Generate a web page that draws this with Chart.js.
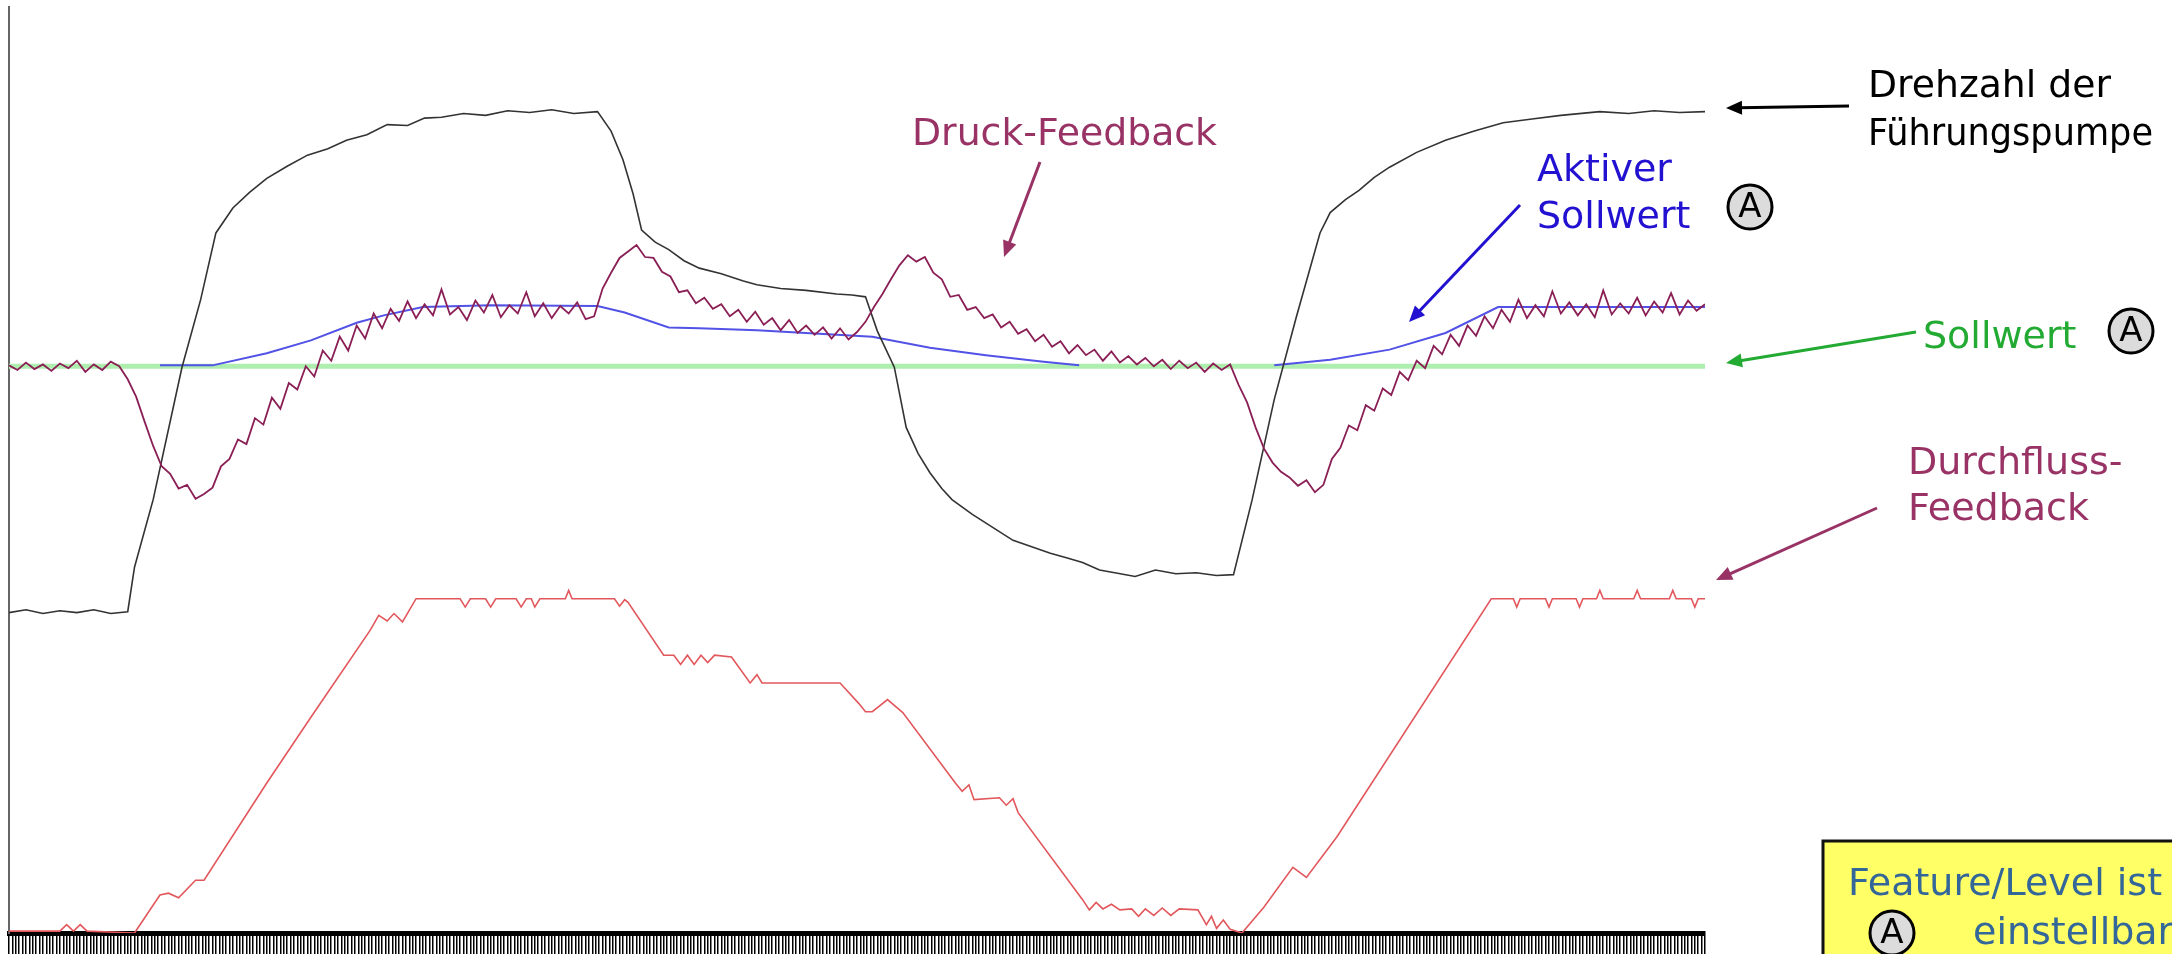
<!DOCTYPE html>
<html lang="de">
<head>
<meta charset="utf-8">
<title>Druckregelung</title>
<script src="https://cdn.jsdelivr.net/npm/chart.js@4.4.1/dist/chart.umd.min.js"></script>
<style>
    html, body { margin: 0; padding: 0; background: #fff; }
    canvas { display: block; }
</style>
</head>
<body>
<canvas id="trend" width="2172" height="954"></canvas>
<script>
// time axis runs 0..1000 (arbitrary units), values in % of full scale

// Druck-Feedback, one sample every 5 time units
const pressureStep = 5;
const pressureValues = [
    61.3, 60.8, 61.6, 60.9, 61.4, 60.7, 61.5, 61.0, 61.8, 60.6, 61.4, 60.8, 61.7, 61.2, 59.8, 57.9, 55.2, 52.6, 50.4, 49.6,
    48.0, 48.4, 46.9, 47.4, 48.1, 50.4, 51.2, 53.3, 52.8, 55.6, 54.9, 57.8, 56.6, 59.4, 58.7, 61.2, 60.1, 62.9, 61.8, 64.4,
    62.9, 65.6, 64.2, 66.9, 65.3, 67.4, 66.1, 68.2, 66.4, 67.9, 66.7, 69.5, 66.8, 67.6, 66.2, 68.3, 67.0, 68.9, 66.5, 67.8,
    66.9, 69.2, 66.6, 68.0, 66.4, 67.7, 66.9, 68.1, 66.3, 66.6, 69.6, 71.3, 72.9, 73.6, 74.3, 73.0, 72.9, 71.4, 70.9, 69.2,
    69.4, 68.0, 68.6, 67.4, 67.9, 66.6, 67.3, 66.0, 67.1, 65.7, 66.4, 65.1, 66.2, 64.8, 65.6, 64.6, 65.4, 64.2, 65.3, 64.1,
    64.9, 66.0, 67.6, 69.0, 70.6, 72.1, 73.2, 72.5, 73.0, 71.3, 70.6, 68.7, 68.9, 67.3, 67.6, 66.4, 66.8, 65.4, 66.0, 64.7,
    65.2, 63.9, 64.6, 63.3, 63.9, 62.6, 63.5, 62.4, 63.0, 61.8, 62.8, 61.6, 62.3, 61.4, 62.1, 61.2, 61.9, 60.9, 61.8, 61.0,
    61.6, 60.6, 61.5, 60.8, 61.4, 59.2, 57.3, 54.6, 52.3, 50.8, 49.8, 49.2, 48.3, 48.9, 47.6, 48.4, 51.2, 52.4, 54.8, 54.3,
    57.0, 56.4, 58.8, 58.1, 60.6, 59.7, 61.8, 61.0, 63.4, 62.5, 64.6, 63.4, 65.6, 64.5, 66.6, 65.3, 67.3, 66.0, 68.4, 66.4,
    67.8, 66.6, 69.3, 66.9, 68.1, 66.7, 67.9, 66.5, 69.4, 66.8, 68.0, 66.9, 68.6, 66.7, 68.2, 67.0, 69.1, 66.8, 68.3, 67.2,
    67.9
];

// Drehzahl der Führungspumpe
const speedTime = [
    0, 10, 20, 30, 40, 50, 60, 70, 74, 85, 102, 113, 122, 132, 142, 152, 164, 176, 188, 199,
    211, 223, 235, 245, 255, 268, 281, 294, 307, 320, 333, 347, 355, 362, 368, 373, 381, 389, 398, 407,
    420, 433, 441, 455, 470, 488, 497, 505, 512, 522, 529, 536, 543, 550, 556, 568, 580, 592, 603, 614,
    624, 633, 643, 652, 664, 676, 688, 700, 712, 722, 733, 746, 759, 773, 779, 788, 796, 805, 814, 830,
    847, 864, 881, 898, 915, 938, 955, 970, 985, 1000
];
const speedValue = [
    34.6, 34.9, 34.5, 34.8, 34.6, 34.9, 34.5, 34.7, 39.5, 46.8, 61.1, 68.4, 75.6, 78.3, 80.0, 81.5, 82.8, 84.0, 84.7, 85.6,
    86.2, 87.3, 87.2, 88.0, 88.1, 88.5, 88.3, 88.8, 88.6, 88.9, 88.5, 88.7, 86.6, 83.5, 79.8, 75.9, 74.6, 73.8, 72.6, 71.8,
    71.2, 70.4, 70.0, 69.6, 69.4, 69.0, 68.9, 68.7, 65.0, 61.1, 54.6, 51.8, 49.7, 48.0, 46.8, 45.2, 43.8, 42.4, 41.7, 41.0,
    40.5, 40.0, 39.2, 38.9, 38.5, 39.2, 38.8, 38.9, 38.6, 38.7, 46.8, 57.6, 66.5, 75.6, 77.8, 79.2, 80.2, 81.6, 82.7, 84.3,
    85.6, 86.6, 87.5, 87.9, 88.3, 88.7, 88.5, 88.8, 88.6, 88.7
];

// Durchfluss-Feedback  [time, value]
const flowSamples = [
    [0, 0.2], [30, 0.2], [34, 0.9], [38, 0.2], [42, 0.9], [46, 0.2], [74, 0.0], [89, 4.1], [94, 4.3], [100, 3.8],
    [110, 5.7], [115, 5.7], [152, 16.2], [178, 23.3], [213, 32.7], [218, 34.3], [223, 33.7], [227, 34.5], [232, 33.6], [240, 36.1],
    [266, 36.1], [269, 35.2], [272, 36.1], [281, 36.1], [284, 35.2], [287, 36.1], [299, 36.1], [302, 35.2], [305, 36.1], [308, 36.1],
    [310, 35.2], [313, 36.1], [328, 36.1], [330, 37.0], [332, 36.1], [357, 36.1], [360, 35.3], [363, 36.0], [365, 35.7], [386, 30.0],
    [392, 30.0], [396, 29.0], [400, 30.0], [404, 29.0], [408, 30.0], [412, 29.2], [416, 30.0], [426, 29.8], [437, 27.0], [441, 27.9],
    [444, 27.0], [490, 27.0], [501, 24.8], [505, 23.9], [509, 23.9], [518, 25.2], [527, 23.8], [558, 16.2], [562, 15.3], [566, 16.0],
    [569, 14.4], [584, 14.6], [588, 13.8], [592, 14.5], [595, 13.0], [633, 3.6], [637, 2.5], [641, 3.3], [645, 2.6], [650, 3.1],
    [655, 2.5], [662, 2.6], [666, 1.8], [670, 2.6], [675, 1.9], [680, 2.7], [685, 1.9], [690, 2.6], [701, 2.5], [706, 0.9],
    [709, 1.8], [712, 0.5], [716, 1.4], [720, 0.4], [727, 0.0], [740, 2.8], [757, 7.1], [765, 6.0], [783, 10.4], [874, 36.1],
    [887, 36.1], [889, 35.2], [891, 36.1], [906, 36.1], [908, 35.2], [910, 36.1], [924, 36.1], [926, 35.2], [928, 36.1], [936, 36.1],
    [938, 37.0], [940, 36.1], [958, 36.1], [960, 37.0], [962, 36.1], [979, 36.1], [981, 37.0], [983, 36.1], [992, 36.1], [994, 35.2],
    [996, 36.1], [1000, 36.1]
];

// Aktiver Sollwert  [time, value], null = follows Sollwert
const activeSetpointSamples = [
    [89, 61.3], [120, 61.3], [152, 62.6], [178, 64.0], [205, 65.9], [221, 66.7], [244, 67.6], [284, 67.8], [347, 67.7], [363, 67.0],
    [389, 65.4], [407, 65.3], [441, 65.1], [509, 64.4], [543, 63.2], [576, 62.4], [610, 61.7], [631, 61.3], [690, null],
    [746, 61.3], [779, 61.9], [814, 63.0], [847, 64.8], [878, 67.6], [938, 67.6], [1000, 67.6]
];

// Sollwert
const setpointSamples = [[0, 61.2], [1000, 61.2]];

const toPoints = pairs => pairs.map(([x, y]) => ({ x, y }));
const pressurePoints = pressureValues.map((y, i) => ({ x: i * pressureStep, y }));
const speedPoints = speedTime.map((x, i) => ({ x, y: speedValue[i] }));

const FONT = '"DejaVu Sans", "Liberation Sans", sans-serif';

function arrow(ctx, x1, y1, x2, y2, color) {
    const ang = Math.atan2(y2 - y1, x2 - x1);
    const len = 16, half = 7;
    ctx.strokeStyle = color;
    ctx.fillStyle = color;
    ctx.lineWidth = 3;
    ctx.beginPath();
    ctx.moveTo(x1, y1);
    ctx.lineTo(x2 - Math.cos(ang) * len * 0.8, y2 - Math.sin(ang) * len * 0.8);
    ctx.stroke();
    ctx.beginPath();
    ctx.moveTo(x2, y2);
    ctx.lineTo(x2 - Math.cos(ang) * len - Math.sin(ang) * half, y2 - Math.sin(ang) * len + Math.cos(ang) * half);
    ctx.lineTo(x2 - Math.cos(ang) * len + Math.sin(ang) * half, y2 - Math.sin(ang) * len - Math.cos(ang) * half);
    ctx.closePath();
    ctx.fill();
}

function circledA(ctx, x, y) {
    ctx.beginPath();
    ctx.arc(x, y, 22, 0, Math.PI * 2);
    ctx.fillStyle = '#dcdcdc';
    ctx.fill();
    ctx.lineWidth = 3;
    ctx.strokeStyle = '#000';
    ctx.stroke();
    ctx.fillStyle = '#000';
    ctx.font = '34px ' + FONT;
    ctx.textAlign = 'center';
    ctx.textBaseline = 'middle';
    ctx.fillText('A', x, y + 1);
    ctx.textAlign = 'left';
    ctx.textBaseline = 'alphabetic';
}

const labels = {
    id: 'labels',
    afterDraw(chart) {
        const ctx = chart.ctx;
        ctx.save();
        ctx.font = '38px ' + FONT;
        ctx.textAlign = 'left';
        ctx.textBaseline = 'alphabetic';

        ctx.fillStyle = '#000';
        ctx.fillText('Drehzahl der', 1868, 97, 243);
        ctx.fillText('Führungspumpe', 1868, 145, 285);
        arrow(ctx, 1849, 106, 1726, 108, '#000');

        ctx.font = '38px ' + FONT;
        ctx.fillStyle = '#993366';
        ctx.fillText('Druck-Feedback', 912, 145, 305);
        arrow(ctx, 1040, 162, 1004, 257, '#993366');

        ctx.font = '38px ' + FONT;
        ctx.fillStyle = '#2211d0';
        ctx.fillText('Aktiver', 1537, 181);
        ctx.fillText('Sollwert', 1537, 228);
        arrow(ctx, 1520, 205, 1409, 322, '#2211d0');
        circledA(ctx, 1750, 207);

        ctx.font = '38px ' + FONT;
        ctx.fillStyle = '#22aa33';
        ctx.fillText('Sollwert', 1923, 348);
        arrow(ctx, 1916, 332, 1726, 363, '#22aa33');
        circledA(ctx, 2131, 331);

        ctx.font = '38px ' + FONT;
        ctx.fillStyle = '#993366';
        ctx.fillText('Durchfluss-', 1908, 474);
        ctx.fillText('Feedback', 1908, 520);
        arrow(ctx, 1877, 508, 1716, 580, '#993366');

        // note box
        ctx.fillStyle = '#ffff66';
        ctx.fillRect(1823, 841, 400, 140);
        ctx.lineWidth = 3;
        ctx.strokeStyle = '#111';
        ctx.strokeRect(1823, 841, 400, 140);
        ctx.font = '38px ' + FONT;
        ctx.fillStyle = '#336699';
        ctx.fillText('Feature/Level ist', 1848, 895);
        ctx.fillText('einstellbar', 1973, 944);
        circledA(ctx, 1892, 933);
        ctx.restore();
    }
};

new Chart(document.getElementById('trend'), {
    type: 'line',
    data: {
        datasets: [
            {
                label: 'Druck-Feedback',
                data: pressurePoints,
                borderColor: '#8a1f55',
                borderWidth: 1.8
            },
            {
                label: 'Drehzahl der Führungspumpe',
                data: speedPoints,
                borderColor: '#333333',
                borderWidth: 1.6
            },
            {
                label: 'Durchfluss-Feedback',
                data: toPoints(flowSamples),
                borderColor: '#e2575c',
                borderWidth: 1.6
            },
            {
                label: 'Aktiver Sollwert',
                data: toPoints(activeSetpointSamples),
                borderColor: '#5252e6',
                borderWidth: 2
            },
            {
                label: 'Sollwert',
                data: toPoints(setpointSamples),
                borderColor: '#aeeeae',
                borderWidth: 5
            }
        ]
    },
    options: {
        responsive: false,
        animation: false,
        layout: { padding: { left: 9, right: 467, top: 7, bottom: 0 } },
        elements: {
            point: { radius: 0 },
            line: { tension: 0, fill: false }
        },
        plugins: {
            legend: { display: false },
            tooltip: { enabled: false }
        },
        scales: {
            x: {
                type: 'linear',
                min: 0,
                max: 1000,
                ticks: { display: false, stepSize: 2, autoSkip: false },
                grid: {
                    drawOnChartArea: false,
                    drawTicks: true,
                    tickLength: 21,
                    color: '#000',
                    lineWidth: 1.5
                },
                border: { display: true, color: '#000', width: 5 }
            },
            y: {
                min: 0,
                max: 100,
                ticks: { display: false },
                grid: { display: false, drawTicks: false },
                border: { display: true, color: '#666', width: 2 }
            }
        }
    },
    plugins: [labels]
});
</script>
</body>
</html>
